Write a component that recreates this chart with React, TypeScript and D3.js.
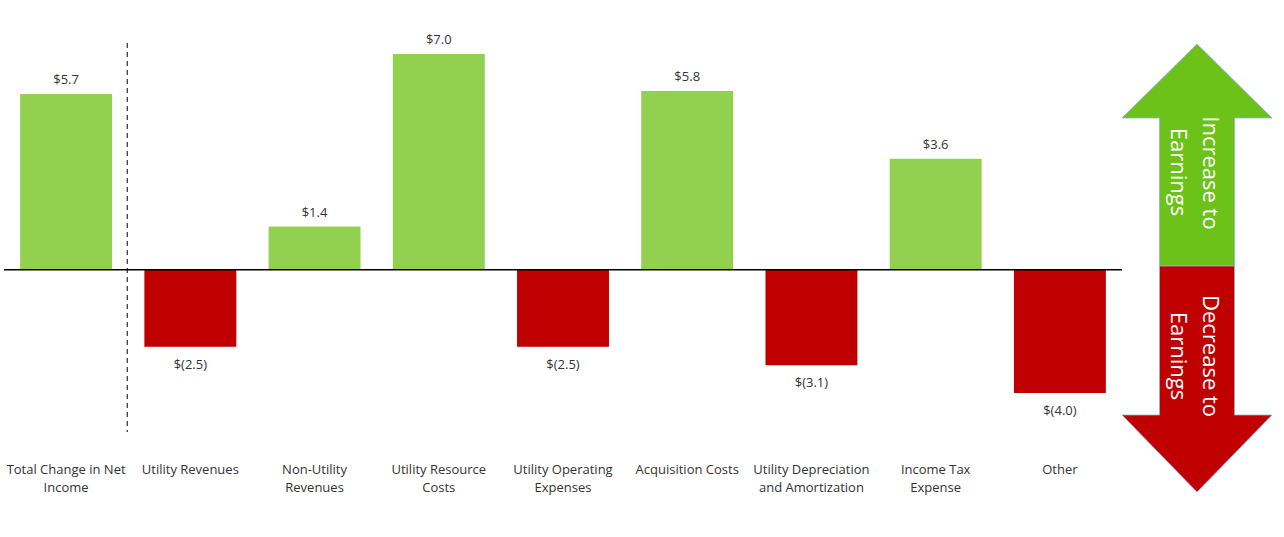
import React from "react";
import * as d3 from "d3";

const categories = [
  ["Total Change in Net", "Income"],
  ["Utility Revenues"],
  ["Non-Utility", "Revenues"],
  ["Utility Resource", "Costs"],
  ["Utility Operating", "Expenses"],
  ["Acquisition Costs"],
  ["Utility Depreciation", "and Amortization"],
  ["Income Tax", "Expense"],
  ["Other"],
];
const values = [5.7, -2.5, 1.4, 7.0, -2.5, 5.8, -3.1, 3.6, -4.0];
const valueLabels = ["$5.7", "$(2.5)", "$1.4", "$7.0", "$(2.5)", "$5.8", "$(3.1)", "$3.6", "$(4.0)"];

const W = 1284, H = 537;
const FONT = "'Open Sans', 'Noto Sans', sans-serif";

export default function App() {
  const idx = categories.map((_, i) => String(i));
  const x = d3.scaleBand().domain(idx).range([4, 1122]).paddingInner(0.26).paddingOuter(0.13);
  const y = d3.scaleLinear().domain([-4, 7]).range([393, 54]);
  const zero = y(0);
  const dashX = (x("0")! + x.bandwidth() + x("1")!) / 2 - 1;

  // arrow geometry
  const ax = 1197, headHalf = 75, shaftHalf = 37.5;
  const tipTop = 44, headBaseTop = 118, mid = 266, headBaseBot = 415, tipBot = 492;
  const up = `M${ax},${tipTop} L${ax + headHalf},${headBaseTop} L${ax + shaftHalf},${headBaseTop} L${ax + shaftHalf},${mid} L${ax - shaftHalf},${mid} L${ax - shaftHalf},${headBaseTop} L${ax - headHalf},${headBaseTop} Z`;
  const down = `M${ax},${tipBot} L${ax + headHalf},${headBaseBot} L${ax + shaftHalf},${headBaseBot} L${ax + shaftHalf},${mid} L${ax - shaftHalf},${mid} L${ax - shaftHalf},${headBaseBot} L${ax - headHalf},${headBaseBot} Z`;

  return (
    <svg width={W} height={H} style={{ display: "block", position: "absolute", left: 0, top: 0 }} fontFamily={FONT}>
      <rect width={W} height={H} fill="#fff" />
      {values.map((v, i) => {
        const bx = x(String(i))!;
        const top = v >= 0 ? y(v) : zero;
        const h = Math.abs(y(v) - zero);
        return (
          <g key={i}>
            <rect x={bx} y={top} width={x.bandwidth()} height={h} fill={v >= 0 ? "#92d050" : "#c00000"} />
            <text
              x={bx + x.bandwidth() / 2}
              y={v >= 0 ? y(v) - 10 : y(v) + 22}
              textAnchor="middle"
              fontSize={13}
              fill="#333"
            >
              {valueLabels[i]}
            </text>
            {categories[i].map((line, j) => (
              <text key={j} x={bx + x.bandwidth() / 2} y={474 + j * 18} textAnchor="middle" fontSize={13} fill="#333">
                {line}
              </text>
            ))}
          </g>
        );
      })}
      <line x1={4} x2={1122} y1={zero} y2={zero} stroke="#000" strokeWidth={1.5} />
      <line x1={dashX} x2={dashX} y1={43} y2={432} stroke="#000" strokeWidth={1} strokeDasharray="5,4" />
      <path d={up} fill="#6cc218" stroke="#8db3e2" strokeWidth={0.8} />
      <path d={down} fill="#c00000" stroke="#8db3e2" strokeWidth={0.8} />
      <g fill="#fff" fontSize={22} textAnchor="middle">
        <text transform={`translate(${ax + 6},${173}) rotate(90)`}>Increase to</text>
        <text transform={`translate(${ax - 26},${172}) rotate(90)`}>Earnings</text>
        <text transform={`translate(${ax + 6},${356}) rotate(90)`}>Decrease to</text>
        <text transform={`translate(${ax - 26},${356}) rotate(90)`}>Earnings</text>
      </g>
    </svg>
  );
}
